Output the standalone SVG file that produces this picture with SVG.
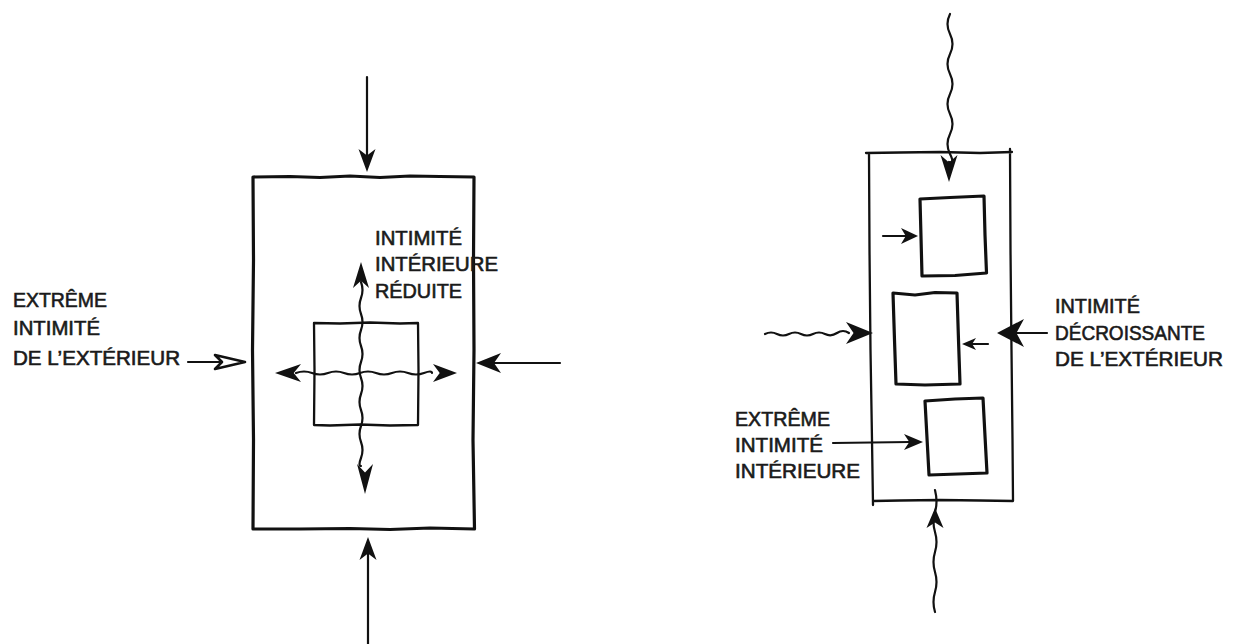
<svg xmlns="http://www.w3.org/2000/svg" xmlns:xlink="http://www.w3.org/1999/xlink" width="1237" height="644" viewBox="0 0 1237 644">
<style>
.bg{fill:#ffffff}
.box{fill:none;stroke:#111;stroke-linejoin:round;stroke-linecap:round}
.thick{stroke-width:3.2}
.mid{stroke-width:2.3}
.ln{fill:none;stroke:#111;stroke-width:2.2;stroke-linecap:round}
.lbl{font-family:"Liberation Sans","DejaVu Sans",sans-serif;font-size:20px;fill:#1a1a1a;stroke:#1a1a1a;stroke-width:0.6}
</style>
<defs>
<path id="ah" d="M0,0 L-1,-1 L-0.72,0 L-1,1 Z" fill="#111"/>
</defs>
<rect class="bg" x="0" y="0" width="1237" height="644"/>

<g id="left-outer-box">
<path class="box thick" d="M253,177 L290,176.5 L320,177.5 L350,176 L380,177.5 L410,176 L440,176.5 L474,177 L473.5,260 L474,350 L473,440 L474.5,529 L430,528 L390,529.5 L350,528.5 L300,529 L253,529 L253.5,440 L252.5,350 L253.5,260 Z"/>
</g>
<g id="left-inner-box">
<path class="box mid" d="M314,323 L340,323.5 L370,322.5 L400,323.5 L418,323 L418.5,370 L418,425 L390,425.5 L360,424.5 L330,425.5 L314,425 L314.5,370 Z"/>
</g>

<g id="right-outer-box">
<path class="box mid" d="M866,153 L900,152.5 L940,152 L980,153 L1012,152 M869,153 L869.5,250 L870.5,350 L872,440 L873,505 M1010,149 L1010.5,250 L1011.5,350 L1012.5,440 L1013,501 L980,500.5 L940,500 L900,500.5 L873,501"/>
</g>
<g id="right-box-top">
<path class="box thick" d="M920,199 L950,197.5 L984,196 L985,235 L986.5,273 L955,275.5 L922,276 L921,237 Z"/>
</g>
<g id="right-box-middle">
<path class="box thick" d="M893,293 L915,295 L935,292.5 L957,293 L958.5,340 L960,384 L925,385 L896,384 L894.5,340 Z"/>
</g>
<g id="right-box-bottom">
<path class="box thick" d="M925,401 L955,399 L983,398 L985,436 L987,473 L958,474 L929,475 L927,438 Z"/>
</g>

<g id="connectors">
<!-- left diagram -->
<line class="ln" x1="367" y1="77" x2="367" y2="158"/>
<use xlink:href="#ah" transform="translate(367,172) rotate(90) scale(23,8.5)"/>
<line class="ln" x1="368" y1="644" x2="368" y2="551"/>
<use xlink:href="#ah" transform="translate(368,537) rotate(-90) scale(23,8.5)"/>
<line class="ln" x1="560" y1="363" x2="492" y2="363"/>
<use xlink:href="#ah" transform="translate(476,363) rotate(180) scale(25,10)"/>
<line class="ln" x1="188" y1="362" x2="220" y2="362"/>
<path d="M245,362 L215,355 L222,362 L215,369 Z" fill="#fff" stroke="#111" stroke-width="2.6" stroke-linejoin="round"/>
<path class="ln" d="M296,373 q8,-3 16,0 t16,0 t16,0 t16,0 t16,0 t16,0 t16,0 t16,0 t8,0"/>
<use xlink:href="#ah" transform="translate(275,373) rotate(180) scale(26,9)"/>
<use xlink:href="#ah" transform="translate(457,373) scale(24,9)"/>
<path class="ln" d="M361,282 q3,8 0,16 t0,16 t0,16 t0,16 t0,16 t0,16 t0,16 t0,16 t0,16 t0,16 t0,16 t0,8"/>
<use xlink:href="#ah" transform="translate(361,262) rotate(-90) scale(26,8)"/>
<use xlink:href="#ah" transform="translate(365,494) rotate(90) scale(30,8)"/>
<!-- right diagram -->
<path class="ln" d="M950,14 q-5,10 0,20 t0,20 t0,20 t0,20 t0,20 t0,20 t0,20 t-1,8"/>
<use xlink:href="#ah" transform="translate(949,182) rotate(90) scale(27,8.5)"/>
<path class="ln" d="M935,612 q-3,-10 0,-20 t0,-20 t0,-20 t0,-20 t0,-20 t0,-22"/>
<use xlink:href="#ah" transform="translate(935,508) rotate(-90) scale(20,8.5)"/>
<path class="ln" d="M765,334 q6,-3 12,0 t12,0 t12,0 t12,0 t12,0 t12,-1 t12,0"/>
<use xlink:href="#ah" transform="translate(873,333) scale(27,11)"/>
<line class="ln" x1="883" y1="236" x2="907" y2="236"/>
<use xlink:href="#ah" transform="translate(918,236) scale(17,8)"/>
<line class="ln" x1="1047" y1="333" x2="1015" y2="333"/>
<use xlink:href="#ah" transform="translate(997,333) rotate(180) scale(27,14)"/>
<line class="ln" x1="988" y1="344" x2="970" y2="344"/>
<use xlink:href="#ah" transform="translate(962,344) rotate(180) scale(14,6)"/>
<line class="ln" x1="833" y1="443" x2="910" y2="442"/>
<use xlink:href="#ah" transform="translate(923,442) scale(19,8)"/>
</g>

<g id="labels">
<text class="lbl" x="13" y="307" textLength="94" lengthAdjust="spacingAndGlyphs">EXTRÊME</text>
<text class="lbl" x="13" y="335" textLength="87" lengthAdjust="spacingAndGlyphs">INTIMITÉ</text>
<text class="lbl" x="13" y="365" textLength="167" lengthAdjust="spacingAndGlyphs">DE L’EXTÉRIEUR</text>
<text class="lbl" x="375" y="245" textLength="87" lengthAdjust="spacingAndGlyphs">INTIMITÉ</text>
<text class="lbl" x="375" y="271" textLength="123" lengthAdjust="spacingAndGlyphs">INTÉRIEURE</text>
<text class="lbl" x="375" y="298" textLength="87" lengthAdjust="spacingAndGlyphs">RÉDUITE</text>
<text class="lbl" x="1055" y="313" textLength="85" lengthAdjust="spacingAndGlyphs">INTIMITÉ</text>
<text class="lbl" x="1055" y="340" textLength="150" lengthAdjust="spacingAndGlyphs">DÉCROISSANTE</text>
<text class="lbl" x="1055" y="366" textLength="168" lengthAdjust="spacingAndGlyphs">DE L’EXTÉRIEUR</text>
<text class="lbl" x="735" y="426" textLength="95" lengthAdjust="spacingAndGlyphs">EXTRÊME</text>
<text class="lbl" x="735" y="452" textLength="88" lengthAdjust="spacingAndGlyphs">INTIMITÉ</text>
<text class="lbl" x="735" y="478" textLength="125" lengthAdjust="spacingAndGlyphs">INTÉRIEURE</text>
</g>
</svg>
